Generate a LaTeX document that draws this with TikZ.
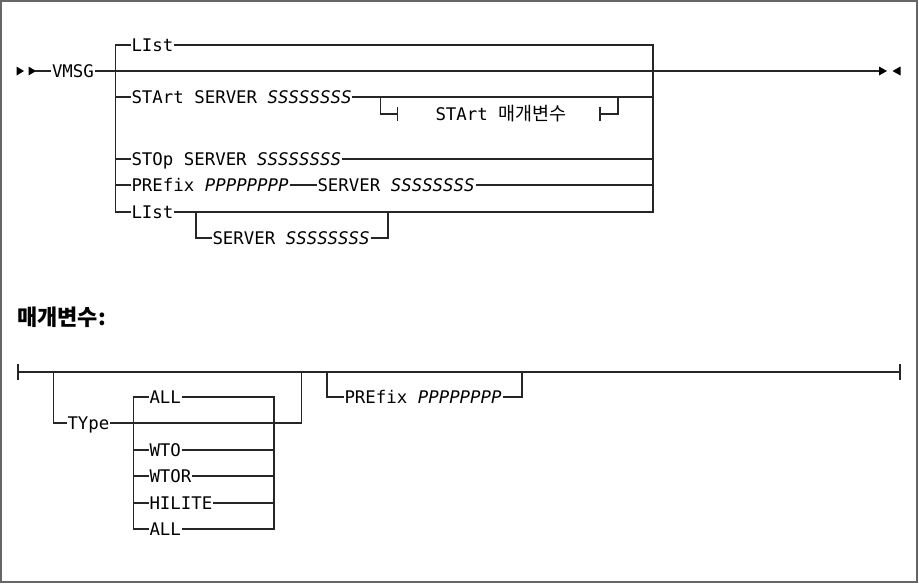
\documentclass[tikz,border=0pt]{standalone}
\usepackage{fontspec}
\newfontfamily\mono{DejaVu Sans Mono}[ItalicFont={DejaVu Sans Mono Oblique}]
\newfontfamily\cjk{Noto Sans CJK KR}
\begin{document}
\begin{tikzpicture}[x=1pt,y=-1pt,
  rr/.style={line width=1.1pt, draw=black!85},
  tri/.style={fill=black},
  txt/.style={anchor=west, inner xsep=1pt, inner ysep=0pt, outer sep=0pt,
    text height=16pt, text depth=3.4pt, font=\mono\fontsize{17.4}{20}\selectfont},
  ttl/.style={anchor=base west, inner sep=0pt, font=\cjk\bfseries\fontsize{22}{26}\selectfont}]
\useasboundingbox (0,0) rectangle (919,584);
\draw[line width=2pt, draw=black!60] (1,1) rectangle (917,582);

% ---------- top diagram ----------
\node[txt] (vmsg) at (51,71) {VMSG};
\coordinate (s0) at (35,71);
\coordinate (e0) at (879,71);
\fill[tri] (16.5,66.5) -- (24,71) -- (16.5,75.5) -- cycle;
\fill[tri] (28.5,66.5) -- (36,71) -- (28.5,75.5) -- cycle;
\fill[tri] (879,66.5) -- (887,71) -- (879,75.5) -- cycle;
\fill[tri] (900.5,66.5) -- (892.5,71) -- (900.5,75.5) -- cycle;
\draw[rr] (s0) -- (vmsg.west);
\draw[rr] (vmsg.east) -- (e0);

\coordinate (L1) at (115.5,45);
\coordinate (L2) at (115.5,212);
\coordinate (R1) at (653,45);
\coordinate (R2) at (653,212);

\node[txt] (list1) at (130.5,45) {LIst};
\node[txt] (start) at (130.5,97) {STArt SERVER \textit{SSSSSSSS}};
\node[txt] (stop) at (130.5,159) {STOp SERVER \textit{SSSSSSSS}};
\node[txt] (pref) at (130.5,185) {PREfix \textit{PPPPPPPP}};
\node[txt] (serv1) at (316.5,185) {SERVER \textit{SSSSSSSS}};
\node[txt] (list2) at (130.5,212) {LIst};
\node[txt] (serv2) at (211.5,238) {SERVER \textit{SSSSSSSS}};
\node[txt] (sparm) at (434.5,114) {STArt {\cjk\fontsize{18.5}{20}\selectfont 매개변수}};

\draw[rr] (list1.west) -- (L1) -- (L2) -- (list2.west);
\draw[rr] (list1.east) -- (R1) -- (R2) -- (list2.east);
\draw[rr] (start.west -| L1) -- (start.west);
\draw[rr] (start.east) -- (start.east -| R1);
\draw[rr] (stop.west -| L1) -- (stop.west);
\draw[rr] (stop.east) -- (stop.east -| R1);
\draw[rr] (pref.west -| L1) -- (pref.west);
\draw[rr] (pref.east) -- (serv1.west);
\draw[rr] (serv1.east) -- (serv1.east -| R1);

% STArt parameter branch
\coordinate (ja) at (380.5,97);
\coordinate (jb) at (618,97);
\coordinate (ta) at (397.5,114);
\coordinate (tb) at (600,114);
\draw[rr] (ja) -- (ja |- ta) -- (ta);
\draw[rr] (397.5,107) -- (397.5,121);
\draw[rr] (600,107) -- (600,121);
\draw[rr] (tb) -- (jb |- tb) -- (jb);

% LIst SERVER branch
\coordinate (ka) at (196,212);
\coordinate (kb) at (388,212);
\draw[rr] (ka) -- (ka |- serv2.west) -- (serv2.west);
\draw[rr] (serv2.east) -- (kb |- serv2.east) -- (kb);

% ---------- parameter title ----------
\node[ttl] (title) at (17,325.5) {매개변수:};

% ---------- bottom diagram ----------
\coordinate (b0) at (18,372);
\coordinate (b1) at (900,372);
\draw[rr] (b0) -- (b1);
\draw[rr] (18,364) -- (18,380);
\draw[rr] (900,364) -- (900,380);

\node[txt] (type) at (66.5,423) {TYpe};
\coordinate (ma) at (53.5,372);
\coordinate (mb) at (301.5,372);
\draw[rr] (ma) -- (ma |- type.west) -- (type.west);
\draw[rr] (type.east) -- (mb |- type.east) -- (mb);

\coordinate (ca) at (133.5,397);
\coordinate (cb) at (274,397);
\coordinate (cc) at (133.5,529);
\coordinate (cd) at (274,529);
\node[txt] (all1) at (148.5,397) {ALL};
\node[txt] (wto) at (148.5,450) {WTO};
\node[txt] (wtor) at (148.5,476) {WTOR};
\node[txt] (hil) at (148.5,503) {HILITE};
\node[txt] (all2) at (148.5,529) {ALL};
\draw[rr] (all1.west) -- (ca) -- (cc) -- (all2.west);
\draw[rr] (all1.east) -- (cb) -- (cd) -- (all2.east);
\foreach \n in {wto,wtor,hil}{
  \draw[rr] (\n.west -| ca) -- (\n.west);
  \draw[rr] (\n.east) -- (\n.east -| cb);
}

\node[txt] (pref2) at (343.5,397) {PREfix \textit{PPPPPPPP}};
\coordinate (pa) at (327,372);
\coordinate (pb) at (522,372);
\draw[rr] (pa) -- (pa |- pref2.west) -- (pref2.west);
\draw[rr] (pref2.east) -- (pb |- pref2.east) -- (pb);
\end{tikzpicture}
\end{document}
